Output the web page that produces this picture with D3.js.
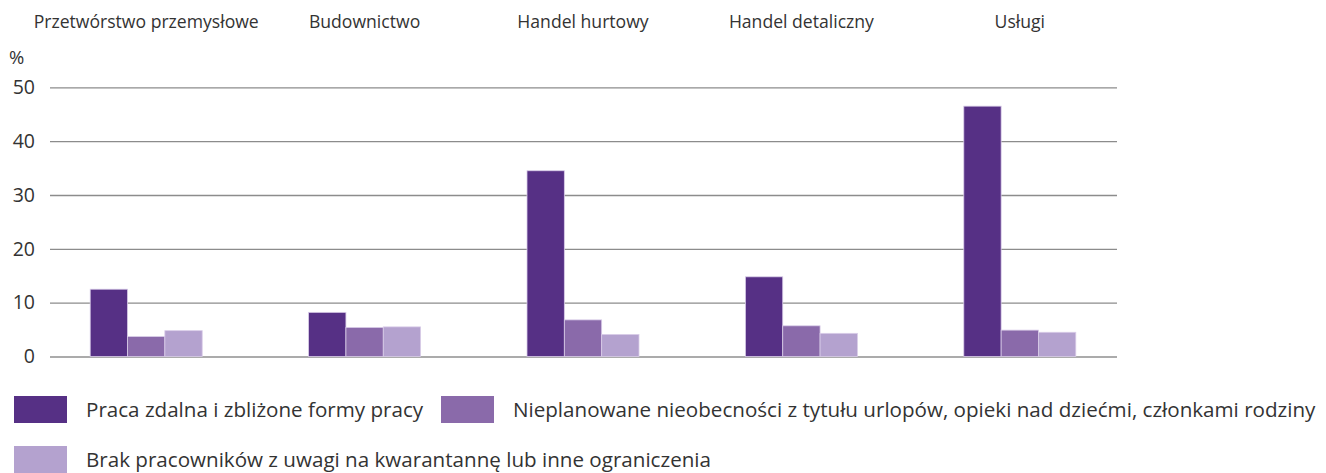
<!DOCTYPE html>
<html>
<head>
<meta charset="utf-8">
<script src="https://cdn.jsdelivr.net/npm/d3@7"></script>
<style>
  body { margin: 0; background: #fff; }
  svg { display: block; font-family: "Open Sans", sans-serif; }
  .grid line { stroke: #8c8c8c; stroke-width: 1.3; }
  .grid .domain { display: none; }
</style>
</head>
<body>
<script>
//chart data
var categories = ["Przetwórstwo przemysłowe", "Budownictwo", "Handel hurtowy", "Handel detaliczny", "Usługi"];
var seriesNames = [
    "Praca zdalna i zbliżone formy pracy",
    "Nieplanowane nieobecności z tytułu urlopów, opieki nad dziećmi, członkami rodziny",
    "Brak pracowników z uwagi na kwarantannę lub inne ograniczenia"
];
var remoteWork = [12.5, 8.2, 34.5, 14.8, 46.5];
var absences = [3.7, 5.4, 6.8, 5.7, 4.9];
var staffShortage = [4.8, 5.5, 4.1, 4.3, 4.5];
var yTicks = [0, 10, 20, 30, 40, 50];
var colors = ["#563085", "#8a6aaa", "#b4a2cf"];

var series = [remoteWork, absences, staffShortage];

//frame
var width = 1326,
    height = 473;

var svg = d3.select("body")
    .append("svg")
    .attr("width", width)
    .attr("height", height);

//scales
var x0 = d3.scaleBand()
    .domain(categories)
    .range([37, 1129]);

var groupWidth = 112;
var x1 = d3.scaleBand()
    .domain(d3.range(series.length))
    .range([(x0.bandwidth() - groupWidth) / 2, (x0.bandwidth() + groupWidth) / 2]);

var y = d3.scaleLinear()
    .domain([0, 50])
    .range([356.5, 87.3]);

//gridlines
var grid = svg.append("g")
    .attr("class", "grid")
    .attr("transform", "translate(50,0)")
    .call(d3.axisLeft(y).tickValues(yTicks).tickSize(-1067).tickFormat(""));

grid.selectAll("line")
    .filter(function(d){ return d === 0; })
    .style("stroke", "#ababab")
    .style("stroke-width", 2.2);

//tick labels
svg.selectAll(".ylab")
    .data(yTicks)
    .enter()
    .append("text")
    .attr("class", "ylab")
    .attr("x", 35)
    .attr("y", function(d){ return y(d); })
    .attr("dy", "0.35em")
    .attr("text-anchor", "end")
    .attr("font-size", 19.5)
    .attr("fill", "#333")
    .text(function(d){ return d; });

svg.append("text")
    .attr("x", 9)
    .attr("y", 64)
    .attr("font-size", 18.5)
    .attr("fill", "#333")
    .text("%");

//category labels on top
svg.selectAll(".catlab")
    .data(categories)
    .enter()
    .append("text")
    .attr("class", "catlab")
    .attr("x", function(d){ return x0(d) + x0.bandwidth() / 2; })
    .attr("y", 28)
    .attr("text-anchor", "middle")
    .attr("font-size", 17.6)
    .attr("fill", "#333")
    .text(function(d){ return d; });

//bars
var groups = svg.selectAll(".group")
    .data(categories)
    .enter()
    .append("g")
    .attr("class", "group")
    .attr("transform", function(d){ return "translate(" + x0(d) + ",0)"; });

groups.selectAll("rect")
    .data(function(d, i){
        return series.map(function(s, k){ return {k: k, v: s[i]}; });
    })
    .enter()
    .append("rect")
    .attr("x", function(d){ return x1(d.k); })
    .attr("y", function(d){ return y(d.v); })
    .attr("width", x1.bandwidth())
    .attr("height", function(d){ return y(0) - y(d.v); })
    .attr("fill", function(d){ return colors[d.k]; })
    .attr("stroke", "#d9cce8")
    .attr("stroke-width", 0.8);

//legend
var legendPos = [[14, 396], [441, 396], [14, 446]];

var legend = svg.selectAll(".legend")
    .data(seriesNames)
    .enter()
    .append("g")
    .attr("class", "legend")
    .attr("transform", function(d, i){ return "translate(" + legendPos[i][0] + "," + legendPos[i][1] + ")"; });

legend.append("rect")
    .attr("width", 53)
    .attr("height", 27)
    .attr("fill", function(d, i){ return colors[i]; });

legend.append("text")
    .attr("x", 72)
    .attr("y", 14)
    .attr("dy", "0.35em")
    .attr("font-size", 20.6)
    .attr("fill", "#333")
    .text(function(d){ return d; });
</script>
</body>
</html>
